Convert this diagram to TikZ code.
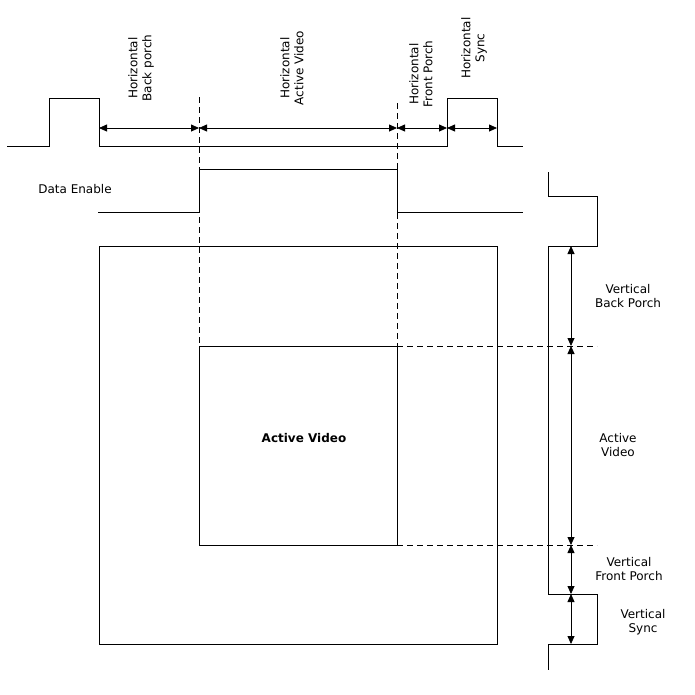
\documentclass[tikz,border=0pt]{standalone}
\usepackage{fontspec}
\setmainfont{DejaVu Sans}
\usetikzlibrary{arrows.meta}
\begin{document}
\begin{tikzpicture}[x=1pt,y=-1pt,line width=0.9pt,
  dim/.style={{Triangle[width=7pt,length=8pt]}-{Triangle[width=7pt,length=8pt]},line width=0.8pt},
  dsh/.style={dashed,dash pattern=on 6pt off 4pt,line width=0.6pt},
  lbl/.style={font=\fontsize{12}{14}\selectfont,align=center,inner sep=0pt},
  rl/.style={lbl,rotate=90}]
\useasboundingbox (0,0) rectangle (695,694);
% horizontal sync waveform
\draw (7,146) -- (49,146) -- (49,98) -- (99,98) -- (99,146) -- (447,146) -- (447,98) -- (497,98) -- (497,146) -- (523,146);
% data enable
\draw (98,212) -- (199,212) -- (199,169) -- (397,169) -- (397,212) -- (523,212);
\node[lbl] (de) at (75,189) {Data Enable};
% boxes
\draw (99,246) rectangle (497,644);
\draw (199,346) rectangle (397,545);
\node[lbl,font=\bfseries\fontsize{12}{14}\selectfont] (av) at (304,438) {Active Video};
% dashed guides
\draw[dsh] (199,97) -- (199,346);
\draw[dsh] (397,103) -- (397,346);
\draw[dsh] (397,346) -- (597,346);
\draw[dsh] (397,545) -- (597,545);
% vertical sync
\draw (548,172) -- (548,196) -- (597,196) -- (597,246) -- (548,246) -- (548,594) -- (597,594) -- (597,644) -- (548,644) -- (548,670);
% horizontal dims
\coordinate (h0) at (99,128); \coordinate (h1) at (199,128);
\coordinate (h2) at (397,128); \coordinate (h3) at (447,128); \coordinate (h4) at (497,128);
\draw[dim] (h0) -- (h1); \draw[dim] (h1) -- (h2); \draw[dim] (h2) -- (h3); \draw[dim] (h3) -- (h4);
% vertical dims
\coordinate (v0) at (571,246); \coordinate (v1) at (571,346);
\coordinate (v2) at (571,545); \coordinate (v3) at (571,594); \coordinate (v4) at (571,644);
\draw[dim] (v0) -- (v1); \draw[dim] (v1) -- (v2); \draw[dim] (v2) -- (v3); \draw[dim] (v3) -- (v4);
% labels
\node[rl] (hbp) at (141,68) {Horizontal\\Back porch};
\node[rl] (hav) at (292,68) {Horizontal\\Active Video};
\node[rl] (hfp) at (421,74) {Horizontal\\Front Porch};
\node[rl] (hs) at (474,48) {Horizontal\\Sync};
\node[lbl] (vbp) at (628,296) {Vertical\\Back Porch};
\node[lbl] (vav) at (618,445) {Active\\Video};
\node[lbl] (vfp) at (629,569) {Vertical\\Front Porch};
\node[lbl] (vs) at (643,622) {Vertical\\Sync};
\end{tikzpicture}
\end{document}
